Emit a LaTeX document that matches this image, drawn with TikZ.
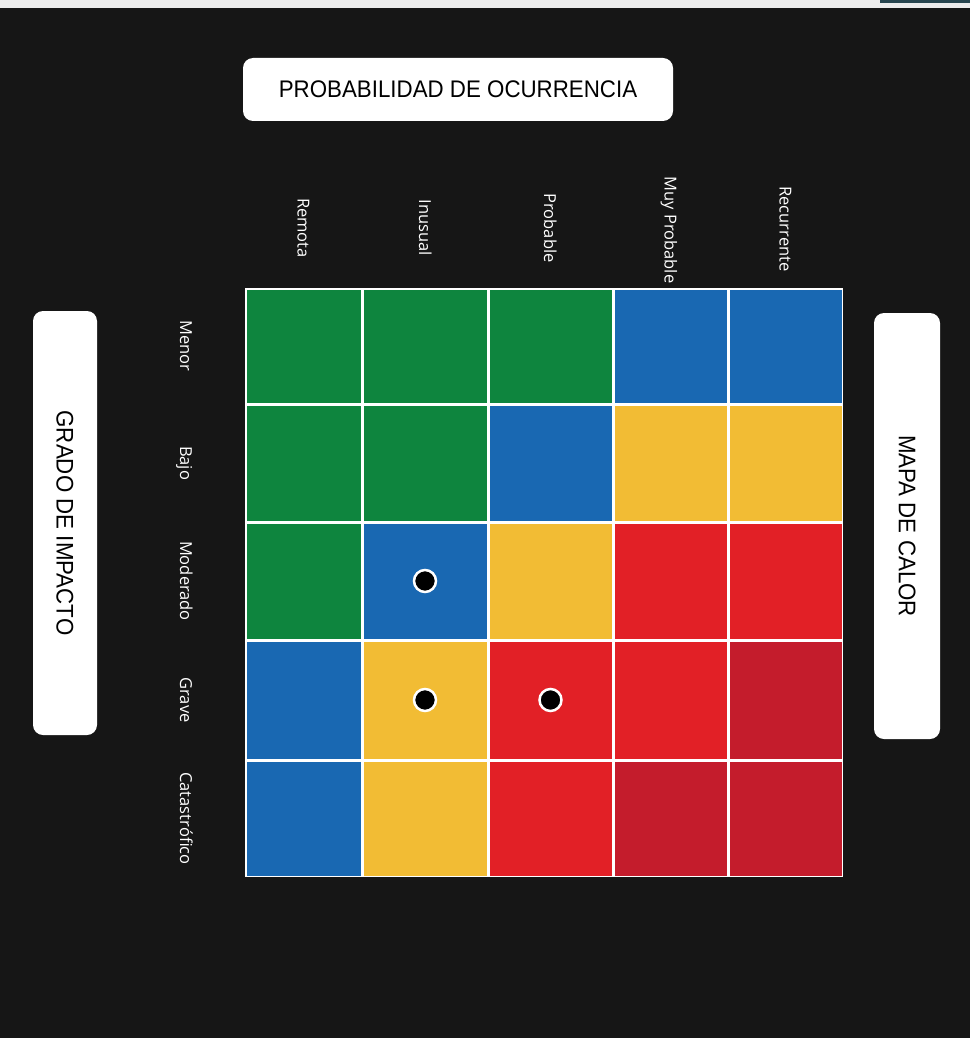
\documentclass[tikz,border=0pt]{standalone}
\usepackage{fontspec}
\setmainfont{Open Sans}
\newfontfamily\boxfont{Liberation Sans}
\usepackage{graphicx}
\definecolor{bgdark}{RGB}{22,22,22}
\definecolor{scanstrip}{RGB}{236,236,236}
\definecolor{scanteal}{RGB}{40,70,80}
\definecolor{hgreen}{RGB}{14,133,62}
\definecolor{hblue}{RGB}{25,104,178}
\definecolor{hyellow}{RGB}{242,188,52}
\definecolor{hred}{RGB}{226,32,38}
\definecolor{hdred}{RGB}{196,28,44}
\newcommand\hcell[6]{%
  \node[hcellbox, fill=#6, minimum width={#3-#2-3}, minimum height={#5-#4-3}]
    (#1) at ({(#2+#3)/2},{(#4+#5)/2}) {};}
\begin{document}
\begin{tikzpicture}[x=1pt,y=-1pt,
  hcellbox/.style={draw=none, inner sep=0pt, outer sep=0pt, rectangle},
  lbox/.style={fill=white, rounded corners=10pt, inner sep=0pt, text=black,
    font=\boxfont\fontsize{24}{28}\selectfont},
  axlab/.style={rotate=-90, text=white, inner sep=0pt, text height=12pt, text depth=0pt,
    font=\fontsize{16.5}{18}\selectfont},
  marker/.style={circle, fill=black, draw=white, line width=2.5pt, inner sep=0pt, minimum size=22pt}]
\useasboundingbox (0,0) rectangle (970,1038);
\fill[scanstrip] (0,0) rectangle (970,8);
\fill[scanteal] (880,0) rectangle (970,3.5);
\fill[bgdark] (0,8) rectangle (970,1038);

% title boxes
\node[lbox, minimum width=430pt, minimum height=63pt] (prob) at (458,89.5)
  {\scalebox{0.93}[1]{PROBABILIDAD DE OCURRENCIA}};
\node[lbox, rotate=-90, minimum width=424pt, minimum height=64pt] (impacto) at (65,523)
  {\scalebox{0.93}[1]{GRADO DE IMPACTO}};
\node[lbox, rotate=-90, minimum width=426pt, minimum height=66pt] (mapa) at (907,526)
  {\scalebox{0.93}[1]{MAPA DE CALOR}};

% column labels
\node[axlab] (c1) at (303.5,228) {Remota};
\node[axlab] (c2) at (425,228) {Inusual};
\node[axlab] (c3) at (550,228) {Probable};
\node[axlab] (c4) at (670.5,230) {Muy Probable};
\node[axlab] (c5) at (785.5,229) {Recurrente};

% row labels
\node[axlab] (r1) at (186,346) {Menor};
\node[axlab] (r2) at (186,463) {Bajo};
\node[axlab] (r3) at (186,581) {Moderado};
\node[axlab] (r4) at (186,700) {Grave};
\node[axlab] (r5) at (186,818.5) {Catastrófico};

% grid backing
\fill[white] (245,288) rectangle (843,877);

% row 1
\hcell{m11}{245}{362}{288}{404}{hgreen}
\hcell{m12}{362}{488}{288}{404}{hgreen}
\hcell{m13}{488}{613}{288}{404}{hgreen}
\hcell{m14}{613}{728}{288}{404}{hblue}
\hcell{m15}{728}{843}{288}{404}{hblue}
% row 2
\hcell{m21}{245}{362}{404}{522}{hgreen}
\hcell{m22}{362}{488}{404}{522}{hgreen}
\hcell{m23}{488}{613}{404}{522}{hblue}
\hcell{m24}{613}{728}{404}{522}{hyellow}
\hcell{m25}{728}{843}{404}{522}{hyellow}
% row 3
\hcell{m31}{245}{362}{522}{640}{hgreen}
\hcell{m32}{362}{488}{522}{640}{hblue}
\hcell{m33}{488}{613}{522}{640}{hyellow}
\hcell{m34}{613}{728}{522}{640}{hred}
\hcell{m35}{728}{843}{522}{640}{hred}
% row 4
\hcell{m41}{245}{362}{640}{760}{hblue}
\hcell{m42}{362}{488}{640}{760}{hyellow}
\hcell{m43}{488}{613}{640}{760}{hred}
\hcell{m44}{613}{728}{640}{760}{hred}
\hcell{m45}{728}{843}{640}{760}{hdred}
% row 5
\hcell{m51}{245}{362}{760}{877}{hblue}
\hcell{m52}{362}{488}{760}{877}{hyellow}
\hcell{m53}{488}{613}{760}{877}{hred}
\hcell{m54}{613}{728}{760}{877}{hdred}
\hcell{m55}{728}{843}{760}{877}{hdred}

% markers
\node[marker] (d1) at (m32) {};
\node[marker] (d2) at (m42) {};
\node[marker] (d3) at (m43) {};
\end{tikzpicture}
\end{document}
